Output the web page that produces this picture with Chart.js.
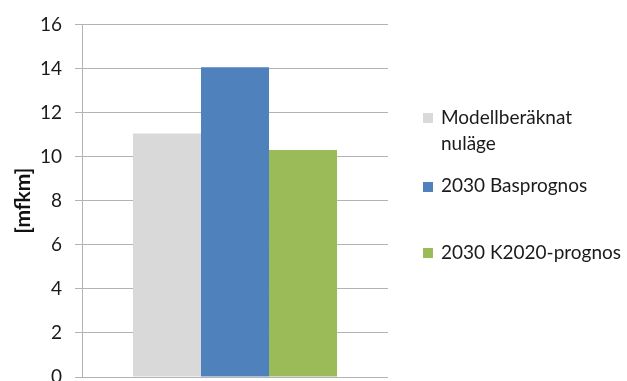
<!DOCTYPE html>
<html>
<head>
<meta charset="utf-8">
<script src="https://cdn.jsdelivr.net/npm/chart.js@4"></script>
<style>
  html, body { margin: 0; padding: 0; background: #fff; overflow: hidden; }
  #wrap { position: relative; width: 627px; height: 381px; overflow: hidden; }
  #wrap canvas { position: absolute; left: 0; top: 0; }
  .leg { position: absolute; left: 423px; font: 19px Lato, sans-serif; color: #1a1a1a; }
  .leg span.box { position: absolute; left: 0; width: 10px; height: 10px; }
  .leg span.txt { position: absolute; left: 18px; white-space: nowrap; line-height: 26px; }
</style>
</head>
<body>
<div id="wrap">
  <canvas id="myChart" width="627" height="410"></canvas>
</div>
<script>
const seriesNames = ["Modellberäknat nuläge", "2030 Basprognos", "2030 K2020-prognos"];
const seriesValues = [11.05, 14.05, 10.3];
const seriesColors = ["#d9d9d9", "#4f81bd", "#9bbb59"];
const yTicks = [0, 2, 4, 6, 8, 10, 12, 14, 16];

// legend (Excel style, uneven spacing)
const legendRows = [
  { lines: ["Modellberäknat", "nuläge"], box: 113, text: 104 },
  { lines: ["2030 Basprognos"], box: 182, text: 172 },
  { lines: ["2030 K2020-prognos"], box: 248, text: 239 },
];
const wrap = document.getElementById("wrap");
legendRows.forEach((row, i) => {
  const div = document.createElement("div");
  div.className = "leg";
  div.style.top = "0px";
  div.innerHTML =
    `<span class="box" style="top:${row.box}px;background:${seriesColors[i]}"></span>` +
    `<span class="txt" style="top:${row.text}px">${row.lines.join("<br>")}</span>`;
  wrap.appendChild(div);
});

const ctx = document.getElementById("myChart");

new Chart(ctx, {
  type: "bar",
  data: {
    labels: [""],
    datasets: seriesNames.map((name, i) => ({
      label: name,
      data: [seriesValues[i]],
      backgroundColor: seriesColors[i],
      borderWidth: 0,
      categoryPercentage: 0.667,
      barPercentage: 1,
    })),
  },
  options: {
    responsive: false,
    animation: false,
    layout: { padding: { top: 21, right: 239, bottom: 33, left: 0 } },
    plugins: { legend: { display: false }, tooltip: { enabled: false } },
    scales: {
      x: { display: false },
      y: {
        min: 0,
        max: 16,
        afterFit(scale) {
          scale.width = 82;
        },
        afterBuildTicks(scale) {
          scale.ticks = yTicks.map((v) => ({ value: v }));
        },
        ticks: {
          color: "#1a1a1a",
          font: { family: "Lato", size: 19 },
          padding: 13,
        },
        grid: { color: "#b3b3b3", tickLength: 7, lineWidth: 1 },
        border: { color: "#b3b3b3" },
        title: {
          display: true,
          text: "[mfkm]",
          color: "#111",
          font: { family: "Lato", size: 21, weight: "bold" },
          padding: { top: 11, bottom: 0 },
        },
      },
    },
  },
});
</script>
</body>
</html>
